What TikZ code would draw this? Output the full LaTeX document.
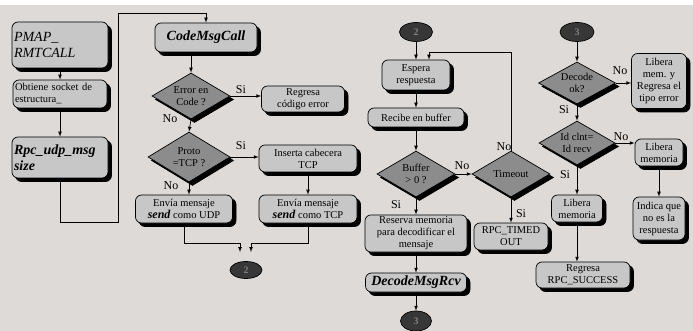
\documentclass[tikz,border=0pt]{standalone}
\usepackage{fontspec}
\setmainfont{Liberation Serif}
\usetikzlibrary{shapes.geometric}
\definecolor{grisfondo}{RGB}{222,218,215}
\definecolor{griscaja}{RGB}{200,199,199}
\definecolor{grisrombo}{RGB}{140,140,140}
\definecolor{grisconector}{RGB}{55,55,55}
\newcommand{\motsend}{\textbf{\textit{\fontsize{12}{12}\selectfont send}}}

\begin{document}
\begin{tikzpicture}[x=1pt, y=-1pt, line width=.7pt,
        ombre/.style={preaction={draw=black, fill=black, transform canvas={xshift=3.5pt, yshift=-3.5pt}}},
        proceso/.style={rectangle, rounded corners=6pt, draw, fill=griscaja, ombre, inner sep=2pt, align=center, font=\fontsize{10.5}{12}\selectfont},
        titulo/.style={proceso, font=\fontsize{14}{16}\selectfont\bfseries\itshape},
        decision/.style={diamond, aspect=1.7, draw, fill=grisrombo, ombre, inner sep=0pt, align=center, font=\fontsize{10.5}{12}\selectfont},
        conector/.style={ellipse, draw, fill=grisconector, text=gray, inner sep=0pt, font=\fontsize{10}{10}\selectfont\bfseries},
        etiqueta/.style={inner sep=1pt, font=\fontsize{12}{12}\selectfont},
        flecha/.style={-latex}]
    \useasboundingbox (0,0) rectangle (693,331);
    \fill[grisfondo] (0,5) rectangle (693,331);
    \fill[white] (0,0) rectangle (693,5);

    % colonne de gauche
    \node[proceso, align=left, text width=92pt, minimum height=46pt, font=\fontsize{14}{16}\selectfont\itshape] (pmap) at (60,45) {PMAP\_\\RMTCALL};
    \node[proceso, align=left, text width=90pt, minimum height=28pt] (obtiene) at (60,94) {Obtiene socket de\\estructura\_};
    \node[titulo, align=left, text width=92pt, minimum height=41pt] (rpcudp) at (60,157.5) {Rpc\_udp\_msg\\size};
    \coordinate (v1) at (118,222);
    \coordinate (v2) at (118,13);

    \node[titulo, minimum width=102pt, minimum height=29pt] (codemsg) at (206,37.5) {CodeMsgCall};
    \node[decision, minimum width=78pt, minimum height=46pt] (errcode) at (191,96) {Error en\\Code ?};
    \node[proceso, minimum width=83pt, minimum height=26pt] (regresa) at (303,99) {Regresa\\código error};
    \node[decision, minimum width=82pt, minimum height=50pt] (proto) at (189,157) {Proto\\=TCP ?};
    \node[proceso, minimum width=98pt, minimum height=27pt] (inserta) at (308,158.5) {Inserta cabecera\\TCP};
    \node[proceso, minimum width=97pt, minimum height=28pt] (enviaudp) at (184,209) {Envía mensaje\\\motsend{} como UDP};
    \node[proceso, minimum width=98pt, minimum height=28pt] (enviatcp) at (308,209) {Envía mensaje\\\motsend{} como TCP};
    \node[conector, minimum width=32pt, minimum height=17pt] (con2a) at (246,270) {2};
    \coordinate (u1) at (240,252);
    \coordinate (u2) at (251,252);

    % colonne du milieu
    \node[conector, minimum width=33pt, minimum height=19pt] (con2b) at (416,32) {2};
    \node[proceso, minimum width=68pt, minimum height=30pt] (espera) at (416,75) {Espera\\respuesta};
    \node[proceso, minimum width=96pt, minimum height=19pt] (recibe) at (416,117.5) {Recibe en buffer};
    \node[decision, minimum width=78pt, minimum height=46pt] (buffer) at (416,174) {Buffer\\> 0 ?};
    \node[decision, minimum width=78pt, minimum height=46pt] (timeout) at (511,174) {Timeout};
    \node[proceso, minimum width=74pt, minimum height=27pt] (timed) at (511,236.5) {RPC\_TIMED\\OUT};
    \node[proceso, minimum width=102pt, minimum height=37pt] (reserva) at (416,233.5) {Reserva memoria\\para decodificar el\\mensaje};
    \node[titulo, minimum width=101pt, minimum height=19pt] (decode) at (416,282.5) {DecodeMsgRcv};
    \node[conector, minimum width=31pt, minimum height=20pt] (con3a) at (416,321) {3};
    \coordinate (w1) at (429,52);

    % colonne de droite
    \node[conector, minimum width=34pt, minimum height=19pt] (con3b) at (577,32) {3};
    \node[decision, minimum width=77pt, minimum height=42pt] (decodeok) at (577,83) {Decode\\ok?};
    \node[proceso, minimum width=55pt, minimum height=55pt] (liberamem) at (659,81) {Libera\\mem. y\\Regresa el\\tipo error};
    \node[decision, minimum width=76pt, minimum height=44pt] (idclnt) at (577,143) {Id clnt=\\Id recv};
    \node[proceso, minimum width=48pt, minimum height=27pt] (liberamem2) at (659,152.5) {Libera\\memoria};
    \node[proceso, minimum width=51pt, minimum height=27pt] (liberamem3) at (577,208.5) {Libera\\memoria};
    \node[proceso, minimum width=94pt, minimum height=26pt] (success) at (583,275) {Regresa\\RPC\_SUCCESS};
    \node[proceso, minimum width=52pt, minimum height=43pt] (indica) at (659,218.5) {Indica que\\no es la\\respuesta};

    \draw[flecha] (pmap) -- (obtiene);
    \draw[flecha] (obtiene) -- (rpcudp);
    \draw[flecha] (rpcudp.south) |- (v1) -- (v2) -| (codemsg.north);
    \draw[flecha] (errcode.north |- codemsg.south) -- (errcode.north);
    \draw[flecha] (errcode.east) -- (errcode.east -| regresa.west);
    \draw[flecha] (errcode.south) -- (proto.north);
    \draw[flecha] (proto.east) -- (proto.east -| inserta.west);
    \draw[flecha] (proto.south) -- (proto.south |- enviaudp.north);
    \draw[flecha] (inserta) -- (enviatcp);
    \draw[flecha] (enviaudp.south) -- ++(0,20) -| (u1);
    \draw[flecha] (enviatcp.south) -- ++(0,20) -| (u2);

    \draw[flecha] (con2b) -- (espera);
    \draw[flecha] (espera) -- (recibe);
    \draw[flecha] (recibe) -- (buffer);
    \draw[flecha] (buffer) -- (timeout);
    \draw[flecha] (timeout.north) |- (w1) -- (w1 |- espera.north);
    \draw[flecha] (timeout) -- (timed);
    \draw[flecha] (buffer) -- (reserva);
    \draw[flecha] (reserva) -- (decode);
    \draw[flecha] (decode) -- (con3a);

    \draw[flecha] (con3b) -- (decodeok);
    \draw[flecha] (decodeok.east) -- (decodeok.east -| liberamem.west);
    \draw[flecha] (decodeok) -- (idclnt);
    \draw[flecha] (idclnt.east) -- (idclnt.east -| liberamem2.west);
    \draw[flecha] (idclnt) -- (liberamem3);
    \draw[flecha] (liberamem3.south) -- (liberamem3.south |- success.north);
    \draw[flecha] (liberamem2) -- (indica);

    \foreach \x/\y/\texto [count=\i] in {
        241/90/Si, 170/119/No, 241/146/Si, 171/186/No,
        462/166/No, 504/147/No, 521/214/Si, 396/205/Si,
        620/71/No, 564/110/Si, 621/137/No, 565/175/Si
    }{
        \node[etiqueta] (etiq\i) at (\x,\y) {\texto};
    }
\end{tikzpicture}
\end{document}
